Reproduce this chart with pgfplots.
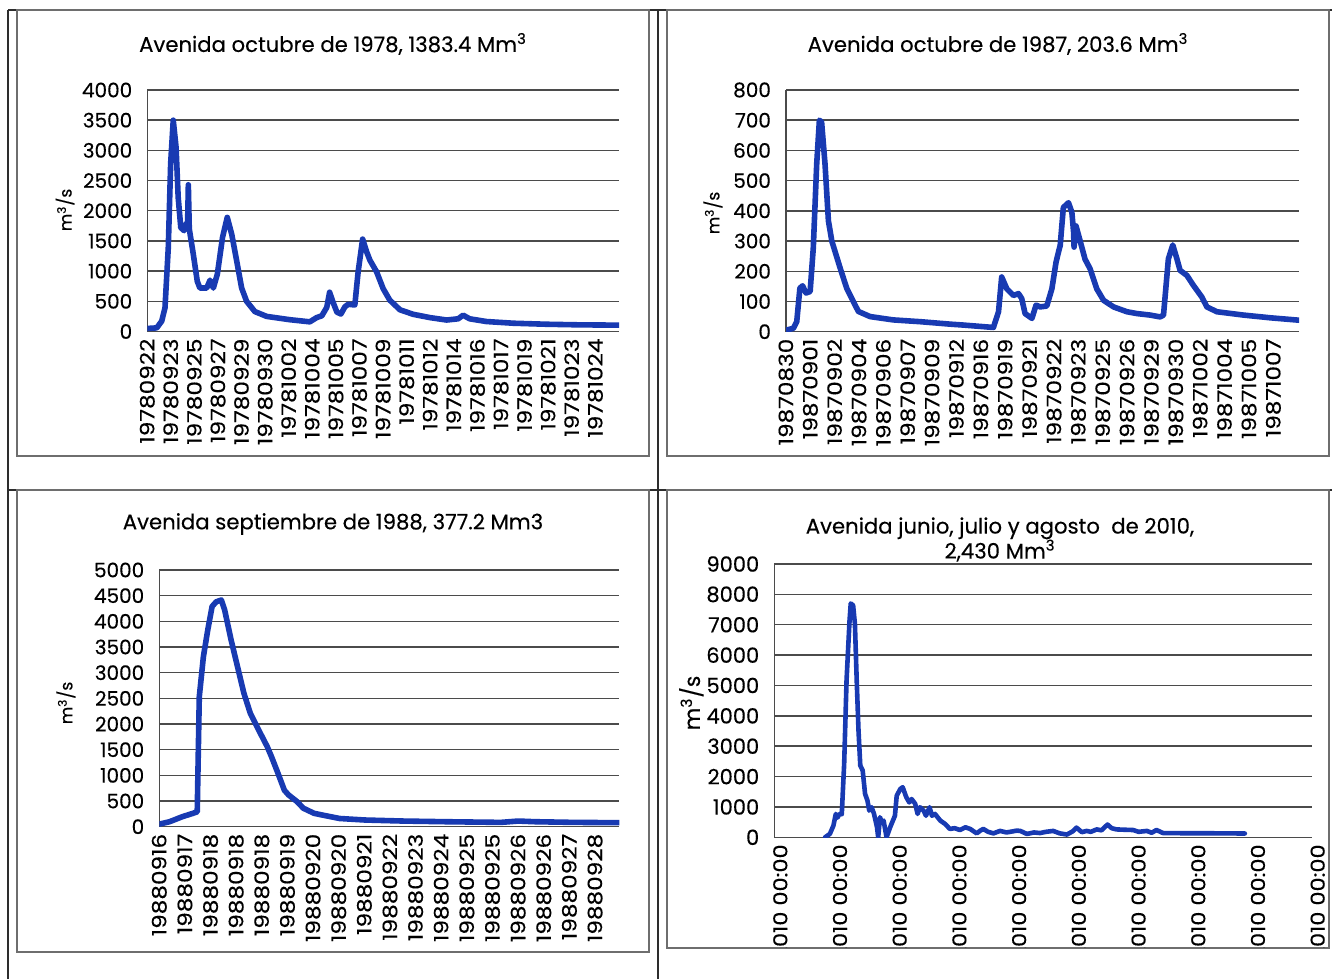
\documentclass[border=0pt]{standalone}
\usepackage{fontspec}
\setmainfont{Poppins}[FakeBold=0.3]
\newfontfamily\xfont{Poppins}[FakeStretch=1.17, FakeBold=0.3]
\usepackage{pgfplots}
\pgfplotsset{compat=1.18}

\definecolor{flowc}{RGB}{24,58,178}
\definecolor{gridc}{RGB}{75,75,75}
\definecolor{boxc}{RGB}{110,110,110}
\definecolor{tablec}{RGB}{45,45,45}

\newcommand{\tickfont}{\fontsize{10}{12}\selectfont}
\newcommand{\xtickfont}{\xfont\fontsize{9.9}{12}\selectfont}
\newcommand{\titlefont}{\fontsize{10.6}{12.5}\selectfont}

\pgfplotsset{
  avenida/.style={
    scale only axis,
    anchor=south west,
    axis lines*=left,
    axis line style={gridc, line width=0.6pt, -},
    ymajorgrids,
    major grid style={gridc, line width=0.75pt},
    major tick length=0pt,
    xmin=0, ymin=0,
    tick label style={font=\tickfont, black},
    /pgf/number format/assume math mode=true,
    /pgf/number format/1000 sep={},
    xticklabel style={rotate=90, anchor=east, font=\xtickfont},
    yticklabel style={xshift=-4pt},
  },
  flowline/.style={flowc, line width=2.8pt, line join=round, line cap=round, mark=none},
}

\begin{document}
\begin{tikzpicture}
\useasboundingbox (0,0) rectangle (666pt,489.5pt);
\fill[white] (0,0) rectangle (666pt,489.5pt);

% table rules
\draw[tablec, line width=0.8pt] (4pt,484.5pt) -- (666pt,484.5pt);
\draw[tablec, line width=0.8pt] (4pt,0pt) -- (4pt,484.5pt);
\draw[tablec, line width=0.8pt] (329pt,0pt) -- (329pt,484.5pt);
\draw[tablec, line width=0.8pt] (4pt,244.5pt) -- (666pt,244.5pt);

% chart frames
\draw[boxc, line width=0.6pt] (8.5pt,261.5pt) rectangle (324.5pt,484.5pt);
\draw[boxc, line width=0.6pt] (333.5pt,261.5pt) rectangle (664.5pt,484.5pt);
\draw[boxc, line width=0.6pt] (8.5pt,13.5pt) rectangle (324.5pt,244.5pt);
\draw[boxc, line width=0.6pt] (333.5pt,15.5pt) rectangle (664.5pt,244.5pt);

% ---- octubre 1978
\node[font=\titlefont] at (166.5pt,467.5pt) {Avenida octubre de 1978, 1383.4 Mm\textsuperscript{3}};
\node[font=\fontsize{8.5}{10}\selectfont, rotate=90] at (32.5pt,384.5pt) {m\textsuperscript{3}/s};
\begin{axis}[avenida, at={(73.65pt,323.75pt)}, width=235.85pt, height=120.75pt,
  xmax=20, ymax=4000, ytick={0,500,...,4000},
  xtick={0,...,19},
  xticklabels={19780922,19780923,19780925,19780927,19780929,19780930,19781002,19781004,19781005,19781007,19781009,19781011,19781012,19781014,19781016,19781017,19781019,19781021,19781023,19781024}]
\addplot[flowline] coordinates {
 (0,50) (0.40,60) (0.61,170) (0.75,390) (0.89,1390) (0.99,2780) (1.10,3500)
 (1.22,3050) (1.31,2220) (1.42,1720) (1.56,1670) (1.64,1780) (1.71,1800)
 (1.74,2430) (1.78,1700) (1.95,1280) (2.12,830) (2.23,720) (2.52,720)
 (2.66,850) (2.80,720) (2.97,950) (3.19,1560) (3.39,1890) (3.58,1610)
 (3.79,1170) (4.00,720) (4.21,500) (4.56,330) (5.06,250) (6.05,195)
 (6.89,160) (7.18,230) (7.40,260) (7.61,400) (7.73,650) (7.86,500)
 (8.04,320) (8.21,290) (8.38,410) (8.52,450) (8.80,440) (8.94,990)
 (9.13,1530) (9.30,1320) (9.44,1180) (9.72,990) (10.0,710) (10.28,520)
 (10.71,360) (11.27,285) (11.98,230) (12.69,190) (13.18,210) (13.39,270)
 (13.67,210) (14.38,165) (15.51,137) (16.92,120) (18.33,110) (20,105)
};
\end{axis}

% ---- octubre 1987
\node[font=\titlefont] at (499pt,467.5pt) {Avenida octubre de 1987, 203.6 Mm\textsuperscript{3}};
\node[font=\fontsize{8.5}{10}\selectfont, rotate=90] at (356.4pt,383pt) {m\textsuperscript{3}/s};
\begin{axis}[avenida, at={(393pt,323.65pt)}, width=256.5pt, height=120.85pt,
  xmax=21.05, ymax=800, ytick={0,100,...,800},
  xtick={0,...,20},
  xticklabels={19870830,19870901,19870902,19870904,19870906,19870907,19870909,19870912,19870916,19870919,19870921,19870922,19870923,19870925,19870926,19870929,19870930,19871002,19871004,19871005,19871007}]
\addplot[flowline] coordinates {
 (0,5) (0.30,11) (0.44,33) (0.57,144) (0.68,152) (0.82,128) (0.99,133)
 (1.12,278) (1.26,556) (1.37,700) (1.46,694) (1.60,556) (1.74,367) (1.88,300)
 (2.22,211) (2.49,144) (2.76,100) (2.97,67) (3.45,50) (4.40,39) (5.53,33)
 (6.73,25) (7.27,22) (8.51,14) (8.72,66) (8.85,181) (9.06,142) (9.33,120)
 (9.54,126) (9.67,110) (9.81,60) (10.09,44) (10.26,88) (10.43,82) (10.70,85)
 (10.91,142) (11.08,230) (11.20,270) (11.25,285) (11.38,411) (11.59,427)
 (11.73,395) (11.80,330) (11.82,280) (11.90,350) (12.07,300) (12.27,240)
 (12.48,208) (12.75,142) (13.03,104) (13.44,82) (13.99,66) (14.40,60)
 (14.94,55) (15.35,49) (15.49,55) (15.69,241) (15.87,287) (16.04,241)
 (16.17,203) (16.45,186) (16.72,153) (17.06,115) (17.27,82) (17.68,66)
 (18.77,55) (19.87,46) (21.05,38)
};
\end{axis}

% ---- septiembre 1988
\node[font=\titlefont] at (166.5pt,227.5pt) {Avenida septiembre de 1988, 377.2 Mm3};
\node[font=\fontsize{8.5}{10}\selectfont, rotate=90] at (32.9pt,138pt) {m\textsuperscript{3}/s};
\begin{axis}[avenida, at={(79.65pt,76.15pt)}, width=230.05pt, height=128.35pt,
  xmax=17.95, ymax=5000, ytick={0,500,...,5000},
  xtick={0,...,17},
  xticklabels={19880916,19880917,19880918,19880918,19880918,19880919,19880920,19880920,19880921,19880922,19880923,19880924,19880925,19880925,19880926,19880926,19880927,19880928}]
\addplot[flowline] coordinates {
 (0,50) (0.40,97) (0.90,195) (1.31,260) (1.48,290) (1.56,2530) (1.72,3310)
 (1.89,3830) (2.06,4290) (2.22,4380) (2.42,4415) (2.55,4220) (2.80,3640)
 (3.05,3120) (3.30,2600) (3.55,2210) (3.88,1880) (4.21,1560) (4.38,1360)
 (4.63,1040) (4.88,710) (5.04,620) (5.37,490) (5.62,360) (6.04,260)
 (6.53,210) (7.03,160) (8.03,130) (9.52,110) (11.18,97) (13.33,84)
 (14.0,110) (14.66,97) (16.15,84) (17.94,78)
};
\end{axis}

% ---- junio-agosto 2010
\node[font=\titlefont, align=center] at (500pt,219.75pt) {Avenida junio, julio y agosto\ \ de 2010,\\2,430 Mm\textsuperscript{3}};
\node[font=\fontsize{11}{12}\selectfont, rotate=90] at (345.7pt,138pt) {m\textsuperscript{3}/s};
\begin{scope}
\clip (333.5pt,15.5pt) rectangle (664.5pt,244.5pt);
\begin{axis}[avenida, at={(387.15pt,70.85pt)}, width=268.7pt, height=136.65pt,
  xmax=9, ymax=9000, ytick={0,1000,...,9000},
  tick label style={font=\fontsize{10.5}{12}\selectfont},
  xtick={0,...,9},
  xticklabels={2010 00:00,2010 00:00,2010 00:00,2010 00:00,2010 00:00,2010 00:00,2010 00:00,2010 00:00,2010 00:00,2010 00:00},
  xticklabel style={yshift=-3pt, font=\xfont\fontsize{9.6}{12}\selectfont}]
\addplot[flowline, line width=2.3pt] coordinates {
 (0.85,0) (0.93,110) (0.99,385) (1.03,770) (1.06,650) (1.09,770) (1.13,760)
 (1.17,2420) (1.21,5170) (1.26,7140) (1.28,7700) (1.32,7640) (1.35,7030)
 (1.38,5170) (1.41,3520) (1.44,2360) (1.48,2200) (1.52,1430) (1.56,1210)
 (1.59,880) (1.63,990) (1.67,770) (1.72,330) (1.74,0) (1.77,660) (1.80,500)
 (1.83,550) (1.88,0) (1.94,330) (2.02,710) (2.05,1370) (2.11,1590) (2.15,1650)
 (2.21,1320) (2.26,1150) (2.30,1260) (2.36,1100) (2.40,770) (2.44,990)
 (2.50,880) (2.54,710) (2.60,990) (2.64,710) (2.69,770) (2.78,550) (2.86,440)
 (2.94,275) (3.02,300) (3.11,240) (3.20,330) (3.28,275) (3.39,130) (3.45,220)
 (3.50,275) (3.58,180) (3.67,130) (3.78,210) (3.89,160) (3.95,180) (4.06,220)
 (4.12,210) (4.23,110) (4.35,160) (4.45,140) (4.55,180) (4.67,210) (4.78,130)
 (4.90,90) (5.00,200) (5.06,320) (5.15,170) (5.23,210) (5.30,180) (5.40,260)
 (5.48,230) (5.58,420) (5.65,300) (5.73,260) (5.85,250) (6.01,240) (6.10,180)
 (6.24,210) (6.32,150) (6.40,240) (6.51,140) (6.8,135) (7.13,135) (7.5,130)
 (7.88,125)
};
\end{axis}
\end{scope}
\end{tikzpicture}
\end{document}
